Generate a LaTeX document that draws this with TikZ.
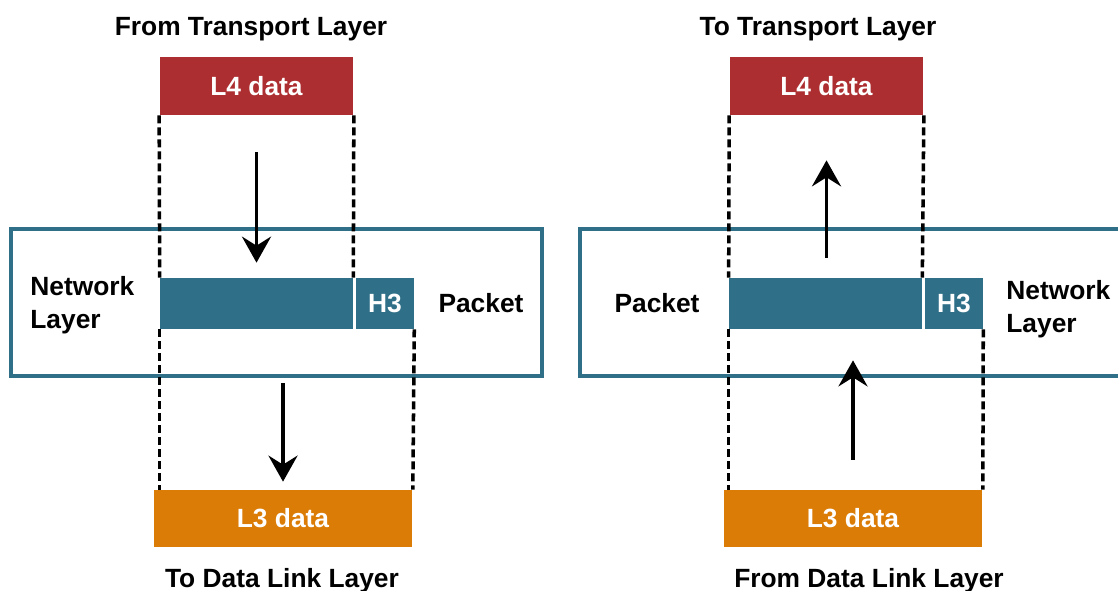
\documentclass[tikz,border=0pt]{standalone}
\usepackage{fontspec}
\setmainfont{Liberation Sans}
\usetikzlibrary{arrows.meta,positioning}
\definecolor{layerred}{HTML}{AD2E31}
\definecolor{layerteal}{HTML}{2F6F87}
\definecolor{layerorange}{HTML}{DB7C06}

\begin{document}
\begin{tikzpicture}[x=0.02cm, y=-0.02cm,
	every node/.style={font=\fontsize{15}{19}\selectfont\bfseries, inner sep=0pt},
	seg/.style={text=white, minimum height=1.16cm},
	l4/.style={seg, fill=layerred, minimum width=3.88cm},
	pkt/.style={seg, fill=layerteal, minimum height=1.02cm},
	l3/.style={seg, fill=layerorange, minimum width=5.18cm, minimum height=1.14cm},
	layerbox/.style={draw=layerteal, line width=1.8pt, minimum height=2.94cm},
	guide/.style={line width=2pt, dash pattern=on 0.16cm off 0.08cm},
	flow/.style={-{Stealth[length=0.52cm, width=0.58cm, inset=0.18cm]}, line width=2.2pt}]
	   \useasboundingbox (0,0) rectangle (1118,591);
	   \node[layerbox, minimum width=10.62cm] (neta) at (276.5,302.5) {};
	   \node[layerbox, minimum width=10.9cm] (netb) at (852.5,302.5) {};
	   % sending side
	   \node (froma) at (251,29) {From Transport Layer};
	   \node[l4] (l4a) at (256.5,86) {L4 data};
	   \node[pkt, minimum width=3.86cm] (bodya) at (256.5,303.5) {};
	   \node[pkt, minimum width=1.16cm, right=0.045cm of bodya] (hdra) {H3};
	   \node[l3] (l3a) at (283,518.5) {L3 data};
	   \node (toa) at (282,581) {To Data Link Layer};
	   \node[anchor=west, align=left] (nla) at (30,305) {Network\\Layer};
	   \node (pka) at (481,303) {Packet};
	   \draw[guide] (l4a.south west) -- (bodya.north west);
	   \draw[guide] (l4a.south east) -- (bodya.north east);
	   \draw[guide] (bodya.south west) -- (bodya.south west |- l3a.north);
	   \draw[guide] (hdra.south east) -- (l3a.north east);
	   \draw[flow, shorten <=0.74cm, shorten >=0.3cm] (l4a.south) -- (l4a.south |- bodya.north);
	   \draw[flow, shorten <=1.08cm, shorten >=0.16cm] (l3a.north |- bodya.south) -- (l3a.north);
	   % receiving side
	   \node (tob) at (818,29) {To Transport Layer};
	   \node[l4] (l4b) at (826.5,86) {L4 data};
	   \node[pkt, minimum width=3.86cm] (bodyb) at (825.5,303.5) {};
	   \node[pkt, minimum width=1.16cm, right=0.045cm of bodyb] (hdrb) {H3};
	   \node[l3] (l3b) at (853,518.5) {L3 data};
	   \node (fromb) at (869,581) {From Data Link Layer};
	   \node[anchor=west, align=left] (nlb) at (1006,309) {Network\\Layer};
	   \node (pkb) at (657,303) {Packet};
	   \draw[guide] (l4b.south west) -- (bodyb.north west);
	   \draw[guide] (l4b.south east) -- (bodyb.north east);
	   \draw[guide] (bodyb.south west) -- (bodyb.south west |- l3b.north);
	   \draw[guide] (hdrb.south east) -- (l3b.north east);
	   \draw[flow, shorten <=0.4cm, shorten >=0.9cm] (l4b.south |- bodyb.north) -- (l4b.south);
	   \draw[flow, shorten <=0.6cm, shorten >=0.62cm] (l3b.north) -- (l3b.north |- bodyb.south);
 \end{tikzpicture}
\end{document}
